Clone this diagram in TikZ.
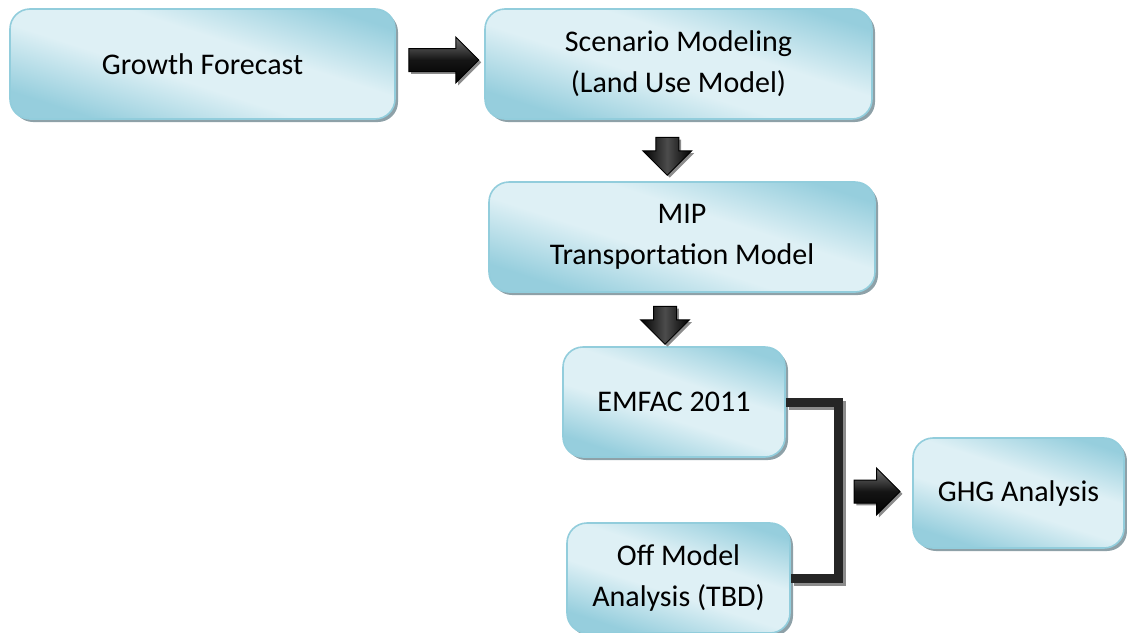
\documentclass[tikz,border=0pt]{standalone}
\usepackage{fontspec}
\setmainfont{Carlito}
\usepackage{xcolor}
\usepackage{tikz}
\usetikzlibrary{shadows}
\usetikzlibrary{positioning}
\usetikzlibrary{shapes,shapes.arrows}
\usetikzlibrary{calc}
\definecolor{boxlight}{HTML}{DEF0F5}
\definecolor{boxdark}{HTML}{96CEDD}
\definecolor{boxedge}{HTML}{92CDDC}
\definecolor{boxshadow}{HTML}{8EA1A8}
\definecolor{arrshadow}{HTML}{8C8C8C}
\pgfdeclareverticalshading{boxshade}{100bp}{color(0bp)=(boxdark); color(26bp)=(boxdark); color(44bp)=(boxlight); color(58bp)=(boxlight); color(76bp)=(boxdark); color(100bp)=(boxdark)}
\tikzstyle{box}=[rectangle,rounded corners=10pt,draw=boxedge,line width=0.8pt,shading=boxshade,shading angle=-18,minimum height=55pt,align=center,font=\fontsize{15}{20.5}\selectfont,drop shadow={shadow xshift=1.5pt,shadow yshift=-1.5pt,fill=boxshadow,opacity=1}]
\tikzstyle{rarrow}=[single arrow,draw=black,line width=0.5pt,inner sep=5.5pt,single arrow head extend=5.75pt,single arrow head indent=0pt,minimum height=35pt,top color=black!55,bottom color=black,middle color=black!92,drop shadow={shadow xshift=1.2pt,shadow yshift=-1.2pt,fill=arrshadow,opacity=1}]
\tikzstyle{darrow}=[rarrow,shape border rotate=270,single arrow head extend=6.5pt,minimum height=19pt,left color=black,right color=black,middle color=black!70]
\tikzstyle{bracket}=[draw=black!85,line width=4.5pt,line join=miter]
\tikzstyle{bracketshadow}=[draw=arrshadow,line width=4.5pt,line join=miter,transform canvas={xshift=1.5pt,yshift=-1.5pt}]

\begin{document}
\begin{tikzpicture}[x=0.5pt,y=-0.5pt]
 \useasboundingbox (0,0) rectangle (1127,632);

 %boxes
 \foreach \x/\y/\w/\name/\label in {202.5/64/192.5pt/growth/{Growth Forecast},
   678.5/64/193.5pt/scenario/{Scenario Modeling\\(Land Use Model)},
   682/237/193pt/mip/{MIP\\Transportation Model},
   674/402/111pt/emfac/{EMFAC 2011},
   678.5/578/111.5pt/offmodel/{Off Model\\Analysis (TBD)},
   1018.5/493/105.5pt/ghg/{GHG Analysis}}
        \node[box,minimum width=\w] (\name) at (\x,\y) {\label};

 %arrows
 \node[rarrow,yshift=2pt,xshift=-1pt] (a1) at ($(growth.east)!0.5!(scenario.west)$) {};

 \foreach \source/\dest/\name in {scenario/mip/a2, mip/emfac/a3}
        \node[darrow,xshift=-6.5pt] (\name) at ($(\source.south)!0.5!(\dest.north)$) {};

 %join
 \coordinate (join) at ($(emfac.east)!0.5!(offmodel.east)+(50,0)$);
 \path[bracketshadow] (emfac.east) -| (join) |- (offmodel.east);
 \path[bracket] (emfac.east) -| (join) |- (offmodel.east);

 \node[rarrow,minimum height=23pt,single arrow head extend=6pt,xshift=-2pt] (a4) at ($(join)!0.5!(ghg.west)$) {};

\end{tikzpicture}
\end{document}
